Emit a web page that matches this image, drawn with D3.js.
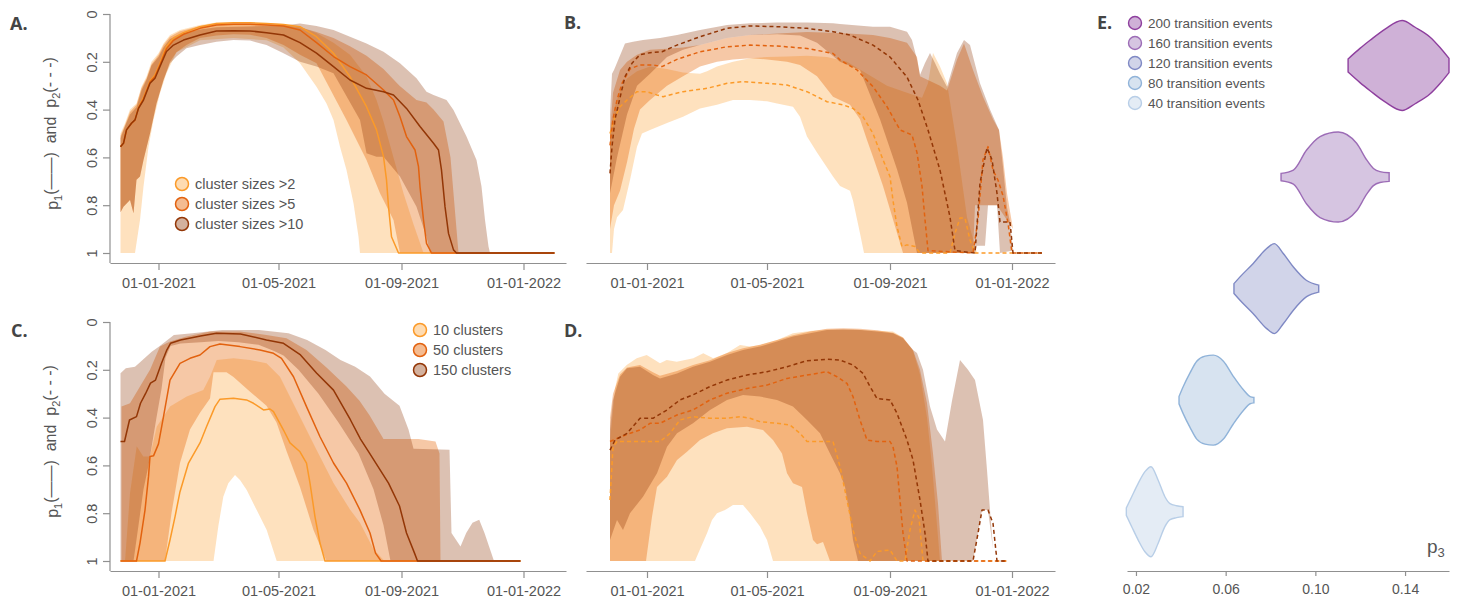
<!DOCTYPE html>
<html><head><meta charset="utf-8">
<script src="https://cdn.jsdelivr.net/npm/d3@7"></script>
<style>body{margin:0;background:#fff;} text{font-family:"Liberation Sans",Arial,sans-serif;}</style>
</head><body>
<script>
// ---------------- DATA (x = days since 2021-01-01, y = probability) ----------------
const tickDates = ["2021-01-01","2021-05-01","2021-09-01","2022-01-01"];
const tickLabels = ["01-01-2021","01-05-2021","01-09-2021","01-01-2022"];
const yTicks = [0,0.2,0.4,0.6,0.8,1];
const yTickLabels = ["0","0.2","0.4","0.6","0.8","1"];
const legendAB = ["cluster sizes >2","cluster sizes >5","cluster sizes >10"];
const legendCD = ["10 clusters","50 clusters","150 clusters"];

// Panel A (p1, cluster sizes)
const A1_med=[[-38,0.555],[-35,0.54],[-32,0.485],[-27,0.457],[-23.5,0.443],[-20,0.39],[-15,0.35],[-8.5,0.28],[-3.5,0.255],[1.5,0.205],[8,0.135],[15,0.1],[25,0.078],[41.5,0.053],[58,0.04],[75,0.037],[91.5,0.037],[108,0.04],[125,0.044],[141.5,0.053],[158,0.095],[175,0.164],[191.5,0.262],[208,0.388],[218,0.485],[225,0.597],[228,0.694],[230,0.806],[233,0.932],[240,1],[396,1]];
const A2_med=[[-38,0.555],[-35,0.54],[-32,0.485],[-27,0.457],[-23.5,0.443],[-20,0.393],[-15,0.355],[-8.5,0.285],[-3.5,0.262],[1.5,0.212],[8,0.145],[15,0.11],[25,0.085],[41.5,0.06],[58,0.046],[75,0.043],[91.5,0.043],[108,0.046],[125,0.05],[141.5,0.067],[158,0.12],[175,0.178],[191.5,0.22],[208,0.255],[225,0.318],[235,0.36],[241.5,0.43],[248,0.513],[256.5,0.569],[260,0.639],[261.5,0.722],[265,0.862],[268,0.96],[273,1],[396,1]];
const A3_med=[[-38,0.555],[-35,0.541],[-32,0.485],[-27,0.457],[-23.5,0.443],[-20,0.395],[-15,0.36],[-8.5,0.29],[-3.5,0.269],[1.5,0.22],[8,0.157],[15,0.13],[25,0.109],[41.5,0.088],[58,0.071],[75,0.07],[91.5,0.071],[108,0.078],[125,0.088],[141.5,0.12],[158,0.164],[175,0.22],[191.5,0.276],[208,0.311],[225,0.325],[235,0.339],[248,0.395],[261.5,0.471],[275,0.541],[280,0.569],[283,0.653],[286.5,0.806],[290,0.918],[295,0.987],[298,1],[396,1]];
const A1_top=[[-38,0.5],[-33.5,0.457],[-28.5,0.4],[-22,0.374],[-17,0.304],[-12,0.262],[-7,0.2],[0,0.164],[5,0.123],[11.5,0.088],[21.5,0.067],[41.5,0.046],[58,0.036],[91.5,0.036],[125,0.042],[141.5,0.053],[158,0.08],[175,0.12],[191.5,0.17],[208,0.26],[218,0.36],[225,0.45],[235,0.6],[245,0.75],[255,0.88],[265,1]];
const A1_bot=[[-38,1],[-23.5,1],[-18.5,0.862],[-15,0.722],[-10,0.555],[-5,0.443],[1.5,0.332],[8,0.248],[18,0.16],[41.5,0.11],[75,0.1],[108,0.11],[125,0.14],[141.5,0.206],[158,0.304],[168,0.374],[175,0.443],[181.5,0.555],[188,0.653],[195,0.792],[200,0.932],[201.5,1],[265,1]];
const A2_top=[[-38,0.51],[-33.5,0.465],[-28.5,0.41],[-22,0.38],[-17,0.31],[-12,0.27],[-7,0.21],[0,0.172],[5,0.13],[11.5,0.095],[21.5,0.072],[41.5,0.05],[58,0.04],[91.5,0.04],[125,0.045],[141.5,0.055],[158,0.075],[175,0.1],[191.5,0.135],[208,0.175],[225,0.23],[241,0.3],[258,0.36],[268,0.37],[275,0.4],[285,0.45],[292,0.6],[297,0.85],[300,1]];
const A2_bot=[[-38,0.83],[-35,0.806],[-28.5,0.778],[-25,0.834],[-22,0.694],[-18.5,0.68],[-15,0.611],[-8.5,0.5],[-2,0.374],[5,0.276],[11.5,0.2],[18,0.16],[28,0.13],[41.5,0.1],[58,0.09],[75,0.085],[91.5,0.087],[108,0.1],[125,0.13],[141.5,0.17],[158,0.206],[188,0.443],[208,0.611],[221.5,0.75],[235,0.862],[241.5,1],[300,1]];
const A3_top=[[-38,0.52],[-33.5,0.47],[-28.5,0.42],[-22,0.39],[-17,0.32],[-12,0.275],[-7,0.215],[0,0.18],[5,0.14],[11.5,0.105],[21.5,0.085],[41.5,0.065],[58,0.055],[91.5,0.052],[125,0.048],[141.5,0.04],[158,0.05],[175,0.067],[191.5,0.095],[208,0.123],[225,0.158],[241.5,0.206],[258,0.269],[268,0.325],[275,0.339],[288,0.36],[295,0.402],[301.5,0.457],[308,0.513],[318,0.611],[323,0.722],[326.5,0.862],[330,0.973],[331.5,1]];
const A3_bot=[[-38,0.83],[-35,0.806],[-28.5,0.778],[-25,0.834],[-22,0.694],[-18.5,0.68],[-15,0.611],[-8.5,0.5],[-2,0.374],[5,0.276],[11.5,0.206],[18,0.178],[28,0.143],[41.5,0.13],[58,0.116],[75,0.109],[91.5,0.111],[108,0.13],[125,0.164],[141.5,0.2],[158,0.22],[175,0.248],[201.5,0.443],[208,0.583],[218,0.597],[225,0.597],[241.5,0.68],[258,0.806],[268,0.932],[271.5,1],[331.5,1]];

// Panel B (p2, cluster sizes)
const B1_med=[[-37,0.5],[-32,0.43],[-27,0.388],[-20,0.36],[-10,0.325],[0,0.325],[10,0.339],[16,0.346],[36,0.325],[60,0.311],[80,0.29],[96,0.283],[120,0.29],[140,0.297],[160,0.325],[180,0.367],[196,0.38],[206,0.395],[216,0.43],[226,0.5],[236,0.61],[243,0.68],[246,0.78],[250,0.89],[255,0.973],[260,0.966],[268,0.973],[273,1],[303,1],[308,0.917],[313,0.854],[318,0.854],[323,0.946],[328,1],[395,1]];
const B2_med=[[-37,0.55],[-34,0.44],[-30,0.36],[-25,0.29],[-17,0.23],[-7,0.213],[6,0.213],[15,0.22],[30,0.19],[53,0.158],[80,0.137],[103,0.13],[130,0.134],[160,0.144],[186,0.165],[193,0.192],[210,0.234],[226,0.304],[240,0.388],[253,0.485],[265,0.506],[270,0.58],[275,0.72],[278,0.86],[281,0.99],[326,1],[331,0.86],[336,0.61],[341,0.555],[346,0.653],[351,0.695],[356,0.76],[361,0.875],[365,1],[395,1]];
const B3_med=[[-37,0.667],[-35,0.555],[-32,0.44],[-27,0.35],[-22,0.262],[-15,0.206],[-7,0.17],[3,0.162],[15,0.158],[30,0.13],[53,0.095],[80,0.06],[103,0.05],[130,0.053],[160,0.06],[186,0.074],[203,0.088],[226,0.13],[243,0.18],[260,0.264],[271,0.36],[281,0.485],[293,0.653],[303,0.85],[308,0.99],[328,1],[333,0.707],[340,0.56],[345,0.61],[350,0.75],[353,0.87],[363,0.87],[366,1],[395,1]];
const B1_top=[[-37,0.5],[-33,0.4],[-27,0.32],[-20,0.27],[-10,0.24],[3,0.22],[20,0.23],[36,0.245],[53,0.25],[60,0.24],[70,0.22],[86,0.2],[103,0.185],[120,0.18],[140,0.178],[160,0.175],[180,0.18],[200,0.2],[220,0.25],[240,0.3],[260,0.33],[275,0.35],[281,0.29],[286,0.163],[293,0.22],[300,0.29],[310,0.55],[320,0.85],[330,1]];
const B1_bot=[[-37,1],[-35,1],[-33,0.9],[-30,0.85],[-24,0.82],[-17,0.695],[-10,0.555],[-5,0.5],[3,0.485],[20,0.456],[36,0.43],[53,0.395],[70,0.38],[86,0.36],[103,0.36],[120,0.365],[130,0.374],[146,0.388],[153,0.43],[160,0.513],[170,0.58],[186,0.68],[193,0.72],[203,0.74],[206,0.78],[213,0.917],[217,1],[330,1]];
const B2_top=[[-37,0.5],[-34,0.33],[-27,0.234],[-20,0.2],[-10,0.17],[3,0.15],[20,0.145],[36,0.14],[53,0.13],[80,0.1],[103,0.088],[130,0.082],[160,0.075],[193,0.08],[226,0.088],[243,0.1],[260,0.12],[270,0.18],[273,0.26],[293,0.3],[300,0.32],[310,0.19],[317,0.123],[326,0.234],[336,0.346],[346,0.44],[352,0.485],[356,0.6],[360,0.75],[364,0.85],[366,0.9]];
const B2_bot=[[-37,0.9],[-33,0.8],[-27,0.74],[-20,0.62],[-13,0.48],[-7,0.4],[3,0.36],[20,0.3],[36,0.26],[53,0.22],[70,0.2],[86,0.19],[103,0.185],[120,0.19],[140,0.2],[153,0.213],[170,0.26],[186,0.346],[203,0.38],[213,0.44],[220,0.527],[227,0.61],[236,0.72],[246,0.86],[256,1],[326,1],[328,0.8],[350,0.8],[366,0.9]];
const B3_top=[[-37,0.42],[-35,0.25],[-33,0.234],[-22,0.123],[-14,0.116],[-4,0.109],[13,0.1],[30,0.088],[53,0.067],[80,0.046],[103,0.039],[130,0.036],[160,0.036],[186,0.039],[193,0.042],[226,0.053],[243,0.053],[260,0.074],[265,0.109],[270,0.19],[273,0.255],[278,0.205],[283,0.163],[288,0.205],[293,0.25],[300,0.304],[310,0.163],[317,0.109],[323,0.13],[333,0.29],[343,0.4],[352,0.485],[356,0.64],[360,0.81],[363,0.87],[366,0.99]];
const B3_bot=[[-37,0.75],[-30,0.6],[-20,0.42],[-10,0.3],[3,0.25],[20,0.18],[36,0.15],[53,0.13],[80,0.1],[103,0.088],[130,0.085],[153,0.09],[170,0.12],[193,0.2],[213,0.234],[233,0.44],[250,0.65],[260,0.79],[270,1],[328,1],[330,0.97],[338,0.97],[341,0.8],[350,0.8],[353,1],[366,0.99]];

// Panel C (p1, number of clusters)
const C1_med=[[-38,1],[6.5,1],[11.5,0.912],[16.5,0.815],[21.5,0.71],[30,0.59],[41.5,0.506],[48,0.438],[56.5,0.354],[61.5,0.323],[75,0.319],[88,0.326],[95,0.34],[105,0.368],[111.5,0.364],[115,0.375],[125,0.452],[131.5,0.506],[141.5,0.543],[148,0.59],[151.5,0.674],[156.5,0.815],[161.5,0.925],[166.5,1],[362,1]];
const C2_med=[[-38,1],[-22,1],[-18.5,0.925],[-13.5,0.787],[-10,0.647],[-8.5,0.563],[-5,0.56],[0,0.51],[5,0.396],[11.5,0.243],[21.5,0.173],[31.5,0.152],[41.5,0.138],[51.5,0.103],[61.5,0.092],[81.5,0.103],[101.5,0.117],[115,0.131],[123,0.152],[135,0.229],[148,0.354],[161.5,0.48],[175,0.59],[188,0.674],[201.5,0.787],[211.5,0.883],[217,0.967],[222.6,1],[362,1]];
const C3_med=[[-38,0.5],[-34,0.5],[-29,0.41],[-22,0.396],[-18,0.34],[-13,0.3],[-8,0.256],[-3,0.243],[3,0.173],[8,0.12],[12,0.089],[22,0.075],[42,0.059],[58,0.047],[82,0.05],[108,0.075],[125,0.089],[142,0.138],[158,0.213],[175,0.285],[192,0.41],[202,0.49],[211,0.549],[230,0.674],[241,0.77],[248,0.883],[256,0.967],[259,1],[362,1]];
const C1_top=[[-33.5,1],[-28.5,0.717],[-21.8,0.52],[-15.2,0.563],[-8.5,0.563],[-1.8,0.438],[11.5,0.354],[28.2,0.312],[44.8,0.285],[51.5,0.229],[58.2,0.159],[75,0.152],[91.5,0.159],[108,0.173],[121.5,0.229],[141.5,0.396],[158,0.535],[175,0.674],[191.5,0.785],[201.5,0.84],[215,0.95],[226,1]];
const C1_bot=[[-33.5,1],[55,1],[59.8,0.856],[64.8,0.731],[69.8,0.675],[76.5,0.64],[81.5,0.661],[88.2,0.703],[98.2,0.787],[108.2,0.87],[118.2,1],[226,1]];
const C2_top=[[-37,0.354],[-28.5,0.34],[-18.5,0.27],[-8.5,0.2],[1.5,0.103],[11.5,0.082],[28,0.061],[51.5,0.04],[81.5,0.04],[108,0.054],[128,0.068],[148,0.117],[168,0.19],[188,0.27],[201,0.33],[211,0.39],[225,0.49],[260,0.49],[277,0.5],[281,0.55],[282,1]];
const C2_bot=[[-37,1],[6.5,1],[13,0.8],[21.5,0.59],[31.5,0.45],[41.5,0.38],[51.5,0.32],[55,0.21],[68,0.21],[75,0.23],[91,0.29],[108,0.35],[118,0.42],[128,0.54],[141.5,0.69],[155,0.87],[168,1],[282,1]];
const C3_top=[[-38,0.214],[-32.7,0.194],[-23.5,0.187],[-17.9,0.166],[-6.8,0.124],[0.6,0.103],[15.4,0.054],[33.9,0.047],[63.5,0.033],[100.5,0.033],[130,0.047],[148.6,0.075],[167,0.117],[182,0.159],[196.7,0.187],[211.5,0.228],[226,0.3],[241,0.35],[250,0.45],[255,0.53],[291,0.535],[293,0.883],[302,0.939],[307.7,0.883],[314,0.84],[320.7,0.827],[326,0.883],[335.5,1]];
const C3_bot=[[-38,1],[-25,1],[-20,0.85],[-15,0.7],[-10,0.6],[-6,0.5],[-2,0.4],[3,0.28],[7,0.15],[12,0.1],[22,0.09],[42,0.085],[60,0.08],[80,0.085],[100,0.095],[115,0.12],[125,0.14],[140,0.2],[160,0.3],[180,0.42],[200,0.55],[215,0.7],[225,0.85],[232,1],[335.5,1]];

// Panel D (p2, number of clusters)
const D1_med=[[-37,0.745],[-34,0.522],[-30,0.5],[13,0.5],[23,0.466],[33,0.41],[46,0.396],[63,0.403],[80,0.403],[93,0.396],[103,0.403],[113,0.417],[130,0.424],[143,0.431],[153,0.466],[160,0.5],[186,0.5],[193,0.605],[200,0.745],[206,0.87],[213,0.968],[223,1],[230,0.96],[243,0.954],[250,1],[258,1],[263,0.87],[268,0.787],[272,0.82],[276,1],[360,1]];
const D2_med=[[-37,0.5],[-20,0.47],[-7,0.452],[3,0.424],[13,0.424],[30,0.389],[46,0.368],[63,0.326],[80,0.298],[100,0.278],[120,0.264],[140,0.236],[160,0.222],[180,0.208],[190,0.229],[200,0.257],[206,0.312],[213,0.41],[220,0.494],[230,0.5],[243,0.5],[246,0.522],[250,0.605],[253,0.745],[256,0.884],[260,1],[360,1]];
const D3_med=[[-37,0.536],[-32,0.494],[-20,0.466],[-7,0.403],[6,0.403],[20,0.368],[33,0.326],[46,0.305],[63,0.27],[80,0.243],[100,0.222],[120,0.208],[140,0.187],[160,0.162],[180,0.156],[193,0.159],[206,0.18],[216,0.215],[223,0.27],[230,0.32],[243,0.326],[250,0.382],[260,0.494],[266,0.577],[273,0.745],[278,0.884],[281,1],[326,1],[331,0.884],[335,0.787],[341,0.787],[346,0.842],[350,1],[360,1]];
const D1_top=[[-37,0.5],[-32,0.278],[-28.7,0.215],[-20.3,0.18],[-10.3,0.152],[-0.3,0.138],[13,0.173],[19.7,0.159],[29.7,0.166],[46.3,0.152],[56.3,0.131],[66.3,0.152],[79.7,0.131],[93,0.096],[103,0.103],[113,0.096],[130,0.075],[146,0.047],[163,0.038],[180,0.031],[206,0.031],[230,0.037],[246,0.04],[256,0.065],[266,0.12],[273,0.22],[280,0.4],[285,0.6],[290,0.85],[293,1]];
const D1_bot=[[-37,1],[48,1],[50,0.98],[60,0.884],[65,0.828],[70,0.8],[78,0.787],[86,0.766],[96,0.766],[103,0.8],[113,0.856],[120,0.912],[126,1],[293,1]];
const D2_top=[[-37,0.4],[-34,0.3],[-27,0.22],[-20,0.19],[-7,0.18],[6,0.21],[13,0.225],[30,0.205],[46,0.18],[63,0.16],[80,0.13],[96,0.11],[113,0.095],[130,0.075],[146,0.055],[163,0.04],[180,0.028],[196,0.026],[213,0.028],[230,0.035],[246,0.045],[256,0.065],[266,0.117],[273,0.2],[280,0.34],[286,0.55],[291,0.76],[295,1]];
const D2_bot=[[-37,1],[-1,1],[5,0.815],[10,0.69],[20,0.647],[30,0.577],[40,0.543],[53,0.494],[66,0.466],[80,0.445],[100,0.438],[116,0.452],[126,0.494],[135,0.55],[140,0.633],[146,0.675],[155,0.69],[160,0.8],[166,0.912],[170,0.93],[176,0.92],[183,1],[295,1]];
const D3_top=[[-37,0.45],[-34,0.326],[-27,0.229],[-20,0.194],[-7,0.187],[6,0.222],[13,0.236],[30,0.215],[46,0.187],[63,0.166],[80,0.138],[96,0.117],[113,0.103],[130,0.082],[146,0.061],[163,0.047],[180,0.033],[196,0.031],[213,0.033],[230,0.04],[246,0.047],[256,0.068],[266,0.117],[270,0.13],[276,0.2],[283,0.354],[290,0.45],[298,0.5],[305,0.33],[313,0.159],[321,0.2],[328,0.243],[336,0.41],[340,0.619],[343,0.787],[346,0.95]];
const D3_bot=[[-37,0.912],[-30,0.828],[-24,0.87],[-17,0.8],[-4,0.731],[10,0.633],[20,0.522],[30,0.466],[46,0.424],[63,0.368],[80,0.326],[96,0.305],[113,0.312],[130,0.326],[146,0.354],[160,0.41],[173,0.466],[183,0.55],[193,0.633],[198,0.689],[203,0.815],[206,0.912],[211,1],[326,1],[335,0.787],[341,0.787],[346,0.95]];

// Panel E (p3 densities, [p3, relative density])
const E_groups=["200 transition events","160 transition events","120 transition events","80 transition events","40 transition events"];
const E_200=[[0.1146,0.146],[0.1199,0.38],[0.1244,0.56],[0.1311,0.81],[0.1387,1.0],[0.1445,0.85],[0.1512,0.63],[0.1556,0.40],[0.1596,0.157]];
const E_160=[[0.0847,0.082],[0.0902,0.156],[0.0961,0.6],[0.1021,0.9],[0.1102,1.0],[0.1184,0.75],[0.1229,0.38],[0.1259,0.19],[0.1288,0.12],[0.1329,0.095]];
const E_120=[[0.0637,0.11],[0.0664,0.26],[0.0723,0.56],[0.0783,0.89],[0.0817,1.0],[0.0857,0.78],[0.0902,0.48],[0.0961,0.18],[0.1015,0.078]];
const E_80=[[0.0392,0.083],[0.0411,0.305],[0.0441,0.605],[0.0471,0.865],[0.0508,0.978],[0.0545,1.0],[0.059,0.865],[0.0634,0.53],[0.0679,0.23],[0.0709,0.08],[0.0726,0.06]];
const E_40=[[0.0157,0.082],[0.0181,0.333],[0.021,0.63],[0.024,0.89],[0.0267,1.0],[0.0299,0.7],[0.0329,0.333],[0.0352,0.178],[0.0381,0.133],[0.041,0.11]];
const E_ticks=[0.02,0.06,0.10,0.14];

// ---------------- STYLE ----------------
const bandFill=["#fdb863","#e66101","#8b3200"];
const bandOpacity=[0.42,0.35,0.3];
const lineColor=["#fb9a29","#e2620f","#933606"];
const E_fill=["#cfb1d7","#d6c5e1","#d1d4e9","#d7e3f0","#e4ecf5"];
const E_stroke=["#8e3f9e","#9c6cb6","#7f89c4","#90b3d9","#b8cee7"];
const axisCol="#909090", textCol="#555";

// ---------------- DRAW ----------------
const BASE=new Date(2021,0,1);
const dayToDate=d=>new Date(BASE.getTime()+d*86400000);
const parse=d3.timeParse("%Y-%m-%d");
const svg=d3.select("body").append("svg").attr("width",1458).attr("height",598);

const panels=[
 {key:"A",xlim:[-48.5,407.5],xr:[110,566],yr:[14,253],axisY:263,yAxis:true,dash:null,legend:legendAB,lx:182,ly:184,lab:[10,30],
  s:[[A1_top,A1_bot,A1_med],[A2_top,A2_bot,A2_med],[A3_top,A3_bot,A3_med]]},
 {key:"B",xlim:[-61,408],xr:[586,1055],yr:[14,253],axisY:263,yAxis:false,dash:"4,3",legend:null,lab:[564,29],
  s:[[B1_top,B1_bot,B1_med],[B2_top,B2_bot,B2_med],[B3_top,B3_bot,B3_med]]},
 {key:"C",xlim:[-48.5,407.5],xr:[110,566],yr:[322,561],axisY:571,yAxis:true,dash:null,legend:legendCD,lx:420,ly:330,lab:[11,337],
  s:[[C1_top,C1_bot,C1_med],[C2_top,C2_bot,C2_med],[C3_top,C3_bot,C3_med]]},
 {key:"D",xlim:[-61,408],xr:[586,1055],yr:[322,561],axisY:571,yAxis:false,dash:"4,3",legend:null,lab:[564,337],
  s:[[D1_top,D1_bot,D1_med],[D2_top,D2_bot,D2_med],[D3_top,D3_bot,D3_med]]}
];

panels.forEach(p=>{
  const x=d3.scaleTime().domain(p.xlim.map(dayToDate)).range(p.xr);
  const y=d3.scaleLinear().domain([0,1]).range(p.yr);
  const g=svg.append("g");
  const line=d3.line().x(d=>x(dayToDate(d[0]))).y(d=>y(d[1]));
  p.s.forEach((s,i)=>{
    const pts=s[0].concat(s[1].slice().reverse());
    g.append("path").attr("d",line(pts)+"Z").attr("fill",bandFill[i]).attr("fill-opacity",bandOpacity[i]).attr("stroke","none");
  });
  p.s.forEach((s,i)=>{
    g.append("path").attr("d",line(s[2])).attr("fill","none").attr("stroke",lineColor[i])
     .attr("stroke-width",1.5).attr("stroke-dasharray",p.dash).attr("stroke-linejoin","round");
  });
  const xa=g.append("g").attr("transform",`translate(0,${p.axisY})`)
    .call(d3.axisBottom(x).tickValues(tickDates.map(parse)).tickFormat((d,i)=>tickLabels[i]).tickSize(7).tickSizeOuter(0));
  xa.select(".domain").attr("stroke",axisCol).attr("stroke-width",1.2);
  xa.selectAll(".tick line").attr("stroke",axisCol).attr("stroke-width",1.2);
  xa.selectAll(".tick text").attr("y",15).attr("fill",textCol).style("font-size","14.5px").style("font-family","'Liberation Sans',Arial,sans-serif");
  if(p.yAxis){
    const ya=g.append("g").attr("transform",`translate(${p.xr[0]},0)`)
      .call(d3.axisLeft(y).tickValues(yTicks).tickFormat((d,i)=>yTickLabels[i]).tickSize(7).tickSizeOuter(0));
    ya.select(".domain").remove();
    ya.append("line").attr("x1",0).attr("x2",0).attr("y1",p.yr[0]).attr("y2",p.axisY).attr("stroke",axisCol).attr("stroke-width",1.2);
    ya.selectAll(".tick line").attr("stroke",axisCol).attr("stroke-width",1.2);
    ya.selectAll(".tick text").attr("x",null).attr("dy",null).attr("transform","translate(-13,0) rotate(-90)")
      .attr("text-anchor","middle").attr("fill",textCol).style("font-size","14.5px").style("font-family","'Liberation Sans',Arial,sans-serif");
    const ym=(p.yr[0]+p.yr[1])/2;
    const t=g.append("text").attr("transform",`translate(58,${ym}) rotate(-90)`).attr("text-anchor","middle")
      .attr("fill",textCol).style("font-size","16px").style("white-space","pre").attr("xml:space","preserve");
    t.append("tspan").text("p");
    t.append("tspan").attr("dy","0.35em").style("font-size","11px").text("1");
    t.append("tspan").attr("dy","-0.35em").text("(——)  and  p");
    t.append("tspan").attr("dy","0.35em").style("font-size","11px").text("2");
    t.append("tspan").attr("dy","-0.35em").text("(- - -)");
  }
  if(p.legend){
    p.legend.forEach((lab,i)=>{
      const cy=p.ly+i*20;
      g.append("circle").attr("cx",p.lx).attr("cy",cy).attr("r",6.5).attr("fill",bandFill[i]).attr("fill-opacity",bandOpacity[i]+0.08)
        .attr("stroke",lineColor[i]).attr("stroke-width",1.5);
      g.append("text").attr("x",p.lx+13).attr("y",cy+5).attr("fill",textCol).style("font-size","14.5px").text(lab);
    });
  }
  svg.append("text").attr("x",p.lab[0]).attr("y",p.lab[1]).attr("fill","#444").style("font-family","'Open Sans',sans-serif")
    .style("font-weight","bold").style("font-size","18px").text(p.key+".");
});

// ---------------- PANEL E ----------------
const xE=d3.scaleLinear().domain([0.016,0.1596]).range([1127,1449]);
const yE=d3.scalePoint().domain(E_groups).range([65.5,511.7]);
const hE=d3.scaleLinear().domain([0,1]).range([0,45]);
const Edata=[E_200,E_160,E_120,E_80,E_40];
const gE=svg.append("g");
Edata.forEach((v,i)=>{
  const cy=yE(E_groups[i]);
  const area=d3.area().x(d=>xE(d[0])).y0(d=>cy-hE(d[1])).y1(d=>cy+hE(d[1])).curve(d3.curveMonotoneX);
  gE.append("path").attr("d",area(v)).attr("fill",E_fill[i]).attr("stroke",E_stroke[i]).attr("stroke-width",1.4);
});
const xaE=gE.append("g").attr("transform","translate(0,571)")
  .call(d3.axisBottom(xE).tickValues(E_ticks).tickFormat(d3.format(".2f")).tickSize(5).tickSizeOuter(0));
xaE.select(".domain").attr("stroke",axisCol).attr("stroke-width",1.2);
xaE.selectAll(".tick line").attr("stroke",axisCol).attr("stroke-width",1.2);
xaE.selectAll(".tick text").attr("y",13).attr("fill",textCol).style("font-size","14px").style("font-family","'Liberation Sans',Arial,sans-serif");
const p3=gE.append("text").attr("x",1427).attr("y",553).attr("fill",textCol).style("font-size","19px");
p3.append("tspan").text("p");
p3.append("tspan").attr("dy","0.3em").style("font-size","13px").text("3");
E_groups.forEach((lab,i)=>{
  const cy=23+i*20;
  gE.append("circle").attr("cx",1135).attr("cy",cy).attr("r",6.5).attr("fill",E_fill[i]).attr("stroke",E_stroke[i]).attr("stroke-width",1.4);
  gE.append("text").attr("x",1148).attr("y",cy+5).attr("fill",textCol).style("font-size","13.5px").text(lab);
});
svg.append("text").attr("x",1097).attr("y",29).attr("fill","#444").style("font-family","'Open Sans',sans-serif")
  .style("font-weight","bold").style("font-size","18px").text("E.");
</script>
</body></html>
